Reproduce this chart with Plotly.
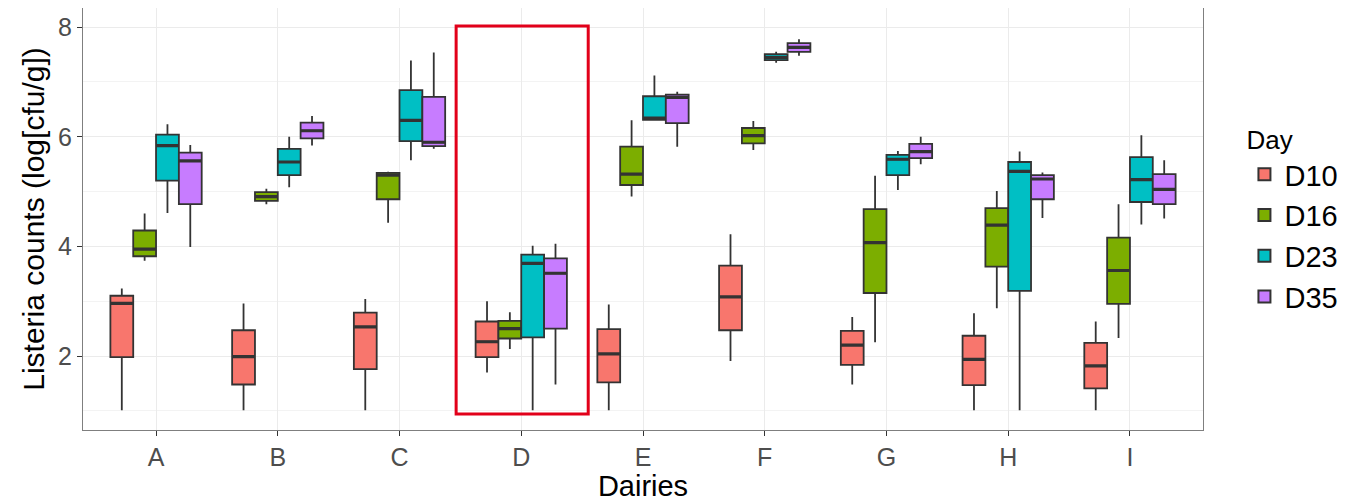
import plotly.graph_objects as go

dairies = ["A", "B", "C", "D", "E", "F", "G", "H", "I"]
days = ["D10", "D16", "D23", "D35"]
colors = ["#F8766D", "#7CAE00", "#00BFC4", "#C77CFF"]

# per-day box statistics, one value per dairy (A..I)
d10_low = [1.01, 1.01, 1.01, 1.70, 1.01, 1.91, 1.48, 1.01, 1.01]
d10_q1 = [1.98, 1.48, 1.76, 1.98, 1.52, 2.47, 1.84, 1.47, 1.41]
d10_med = [2.96, 1.99, 2.53, 2.26, 2.04, 3.08, 2.20, 1.94, 1.82]
d10_q3 = [3.10, 2.47, 2.79, 2.63, 2.49, 3.65, 2.46, 2.37, 2.24]
d10_high = [3.23, 2.96, 3.04, 3.00, 2.94, 4.22, 2.71, 2.78, 2.63]

d16_low = [3.74, 4.77, 4.43, 2.13, 4.91, 5.76, 2.25, 2.87, 2.33]
d16_q1 = [3.82, 4.83, 4.86, 2.32, 5.12, 5.88, 3.15, 3.63, 2.95]
d16_med = [3.95, 4.91, 5.30, 2.50, 5.32, 6.02, 4.07, 4.39, 3.56]
d16_q3 = [4.29, 4.99, 5.34, 2.64, 5.82, 6.16, 4.68, 4.70, 4.16]
d16_high = [4.60, 5.05, 5.36, 2.80, 6.30, 6.29, 5.29, 5.01, 4.77]

d23_low = [4.61, 5.08, 5.57, 1.01, 6.30, 7.35, 5.03, 1.01, 4.40]
d23_q1 = [5.20, 5.30, 5.92, 2.34, 6.31, 7.40, 5.30, 3.19, 4.81]
d23_med = [5.84, 5.54, 6.30, 3.69, 6.34, 7.45, 5.59, 5.37, 5.22]
d23_q3 = [6.04, 5.78, 6.85, 3.85, 6.74, 7.51, 5.67, 5.54, 5.63]
d23_high = [6.23, 6.00, 7.39, 4.01, 7.12, 7.55, 5.74, 5.73, 6.03]

d35_low = [3.99, 5.84, 5.78, 1.48, 5.82, 7.48, 5.50, 4.52, 4.51]
d35_q1 = [4.77, 5.97, 5.83, 2.50, 6.25, 7.55, 5.61, 4.86, 4.77]
d35_med = [5.56, 6.11, 5.90, 3.51, 6.72, 7.63, 5.73, 5.23, 5.04]
d35_q3 = [5.71, 6.26, 6.73, 3.78, 6.77, 7.71, 5.87, 5.30, 5.32]
d35_high = [5.85, 6.38, 7.54, 4.05, 6.82, 7.78, 6.00, 5.35, 5.57]

stats = {
    "D10": (d10_low, d10_q1, d10_med, d10_q3, d10_high),
    "D16": (d16_low, d16_q1, d16_med, d16_q3, d16_high),
    "D23": (d23_low, d23_q1, d23_med, d23_q3, d23_high),
    "D35": (d35_low, d35_q1, d35_med, d35_q3, d35_high),
}

highlight_dairy = "D"

FONT = "Liberation Sans, Arial, Helvetica, sans-serif"

fig = go.Figure()
for day, col in zip(days, colors):
    lo, q1, med, q3, hi = stats[day]
    fig.add_trace(go.Box(
        x=dairies, lowerfence=lo, q1=q1, median=med, q3=q3, upperfence=hi,
        name=day, fillcolor=col, offsetgroup=day,
        line=dict(color="#333333", width=1.8),
        whiskerwidth=0, boxpoints=False, hoverinfo="skip",
    ))

# thicker median bars (ggplot style), drawn as flat boxes on the same offset groups
for day in days:
    lo, q1, med, q3, hi = stats[day]
    fig.add_trace(go.Box(
        x=dairies, lowerfence=med, q1=med, median=med, q3=med, upperfence=med,
        name=day + " median", offsetgroup=day, showlegend=False,
        fillcolor="#333333", line=dict(color="#333333", width=3.2),
        whiskerwidth=0, boxpoints=False, hoverinfo="skip",
    ))

hi_idx = dairies.index(highlight_dairy)
fig.add_shape(
    type="rect", xref="x", yref="y",
    x0=hi_idx - 0.535, x1=hi_idx + 0.55, y0=0.94, y1=8.02,
    line=dict(color="#E2001A", width=3), fillcolor="rgba(0,0,0,0)",
)

fig.update_layout(
    width=1357, height=494,
    margin=dict(l=75, r=162, t=0, b=72, autoexpand=False),
    paper_bgcolor="white", plot_bgcolor="white",
    boxmode="group", boxgap=0.25, boxgroupgap=0,
    font=dict(family=FONT, color="black"),
    legend=dict(
        title=dict(text="Day", font=dict(size=26, color="black")),
        font=dict(size=29, color="black"),
        x=1.037, xanchor="left", y=0.746, yanchor="top",
        tracegroupgap=0, itemsizing="constant",
        bgcolor="rgba(0,0,0,0)",
    ),
    showlegend=True,
)

fig.update_xaxes(
    type="category", range=[-0.6, 8.6], automargin=False,
    showgrid=True, gridcolor="#EBEBEB", gridwidth=1.2,
    ticks="outside", ticklen=5, tickcolor="#333333", tickwidth=1.2,
    tickfont=dict(size=25, color="#4D4D4D"),
    showline=True, linecolor="#7F7F7F", linewidth=1, mirror=True,
    title=dict(text="Dairies", font=dict(size=29, color="black"), standoff=4),
    zeroline=False,
)
fig.update_yaxes(
    range=[0.65, 8.35], automargin=False,
    tickvals=[2, 4, 6, 8],
    showgrid=True, gridcolor="#EBEBEB", gridwidth=1.2,
    minor=dict(tickvals=[1, 3, 5, 7], showgrid=True, gridcolor="#F3F3F3", gridwidth=0.8, ticks=""),
    ticks="outside", ticklen=5, tickcolor="#333333", tickwidth=1.2,
    tickfont=dict(size=25, color="#4D4D4D"),
    showline=True, linecolor="#7F7F7F", linewidth=1, mirror=True,
    title=dict(text="Listeria counts (log[cfu/g])", font=dict(size=30, color="black"), standoff=4),
    zeroline=False,
)

fig.write_html("out.html")
